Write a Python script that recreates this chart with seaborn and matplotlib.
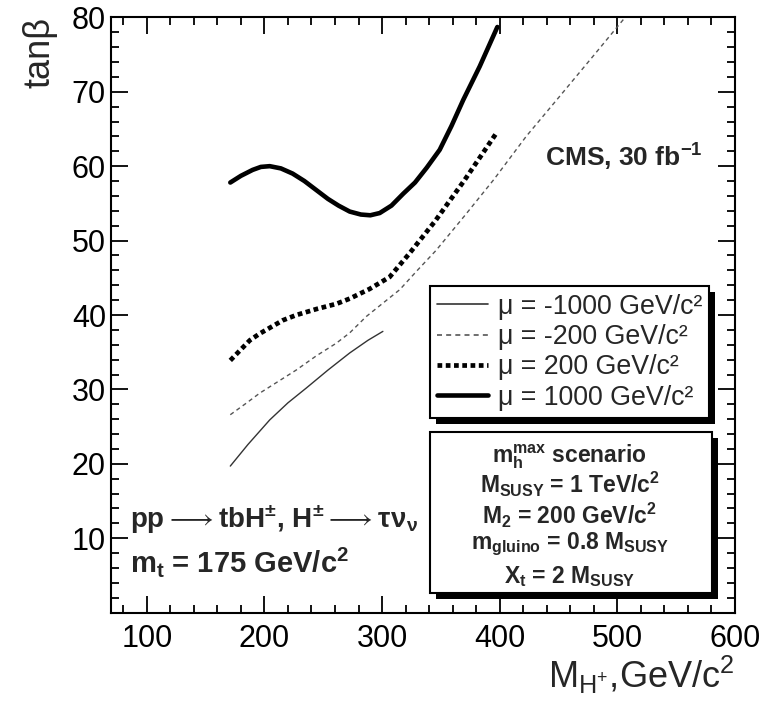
import numpy as np
import pandas as pd
import matplotlib
matplotlib.use("Agg")
import matplotlib.pyplot as plt
import matplotlib.patheffects as pe
from matplotlib.patches import Rectangle
from matplotlib.lines import Line2D
from matplotlib.ticker import MultipleLocator
import seaborn as sns

# ---- data ----
x_m1000 = [171, 186, 204.5, 220, 235.7, 254, 272.5, 288, 300.7]
y_m1000 = [19.7, 22.6, 25.9, 28.2, 30.2, 32.6, 34.9, 36.6, 37.8]

x_m200 = [171, 185, 196, 212, 227, 244, 261, 272.5, 286.6, 300, 315, 330, 346, 370, 395, 422.5, 450, 480, 505.6]
y_m200 = [26.6, 28.2, 29.5, 31.1, 32.6, 34.5, 36.2, 37.6, 39.8, 41.5, 43.4, 46.0, 48.7, 53.3, 58.2, 64.0, 69.2, 74.9, 79.8]

x_p200 = [171, 187.6, 196, 215.8, 227.2, 244.2, 261.2, 272.5, 289.4, 306.4, 323.4, 345, 370, 397]
y_p200 = [33.9, 36.6, 37.5, 39.3, 40.0, 40.8, 41.5, 42.2, 43.5, 45.1, 48.3, 52.6, 58.1, 64.4]

x_p1000 = [171, 180, 190, 197, 204.5, 214, 224, 234, 244, 254, 263, 272.5, 282, 290, 298, 308, 318, 328, 338, 349, 359, 369, 383, 398]
y_p1000 = [57.8, 58.7, 59.5, 59.9, 60.0, 59.7, 59.0, 58.0, 56.8, 55.6, 54.7, 53.9, 53.5, 53.4, 53.7, 54.7, 56.3, 57.8, 59.8, 62.2, 65.4, 68.9, 73.4, 78.7]

labels = ["μ = -1000 GeV/c²", "μ = -200 GeV/c²", "μ = 200 GeV/c²", "μ = 1000 GeV/c²"]
x_ticks = [100, 200, 300, 400, 500, 600]
y_ticks = [10, 20, 30, 40, 50, 60, 70, 80]

box_lines = ["m$_{h}^{max}$ scenario", "M$_{SUSY}$ = 1 TeV/c$^{2}$", "M$_{2}$ = 200 GeV/c$^{2}$",
             "m$_{gluino}$ = 0.8 M$_{SUSY}$", "X$_{t}$ = 2 M$_{SUSY}$"]
proc_lines = [r"pp$\longrightarrow$tbH$^{±}$, H$^{±}$$\longrightarrow$τν$_{ν}$", "m$_{t}$ = 175 GeV/c$^{2}$"]
cms_text = "CMS, 30 fb$^{-1}$"

# ---- style ----
sns.set_style("ticks")
plt.rcParams['font.family'] = ['Liberation Sans', 'DejaVu Sans']
plt.rcParams['mathtext.default'] = 'regular'
plt.rcParams['axes.linewidth'] = 1.5

fig = plt.figure(figsize=(7.63, 7.07), dpi=100)
ax = fig.add_axes([0.1461, 0.1334, 0.8172, 0.8421])

series = [
    (x_m1000, y_m1000, dict(color='#333333', lw=1.0, ls='-')),
    (x_m200, y_m200, dict(color='#555555', lw=1.0, ls=(0, (3, 2.5)))),
    (x_p200, y_p200, dict(color='black', lw=3.4, ls=(0, (1, 0.75)), solid_capstyle='butt', dash_capstyle='butt')),
    (x_p1000, y_p1000, dict(color='black', lw=3.3, ls='-')),
]
handles = []
for (xs, ys, st), lab in zip(series, labels):
    df = pd.DataFrame({"x": xs, "y": ys})
    sns.lineplot(data=df, x="x", y="y", ax=ax, sort=False, estimator=None,
                 color=st['color'], linewidth=st['lw'], linestyle=st['ls'],
                 **{k: v for k, v in st.items() if k.endswith('capstyle')})
    handles.append(Line2D([], [], color=st['color'], lw=st['lw'] * (1.2 if st['lw'] < 2 else 1.0), ls=st['ls']))

ax.set_xlim(70, 600)
ax.set_ylim(0, 80)
ax.set_xticks(x_ticks)
ax.set_yticks(y_ticks)
ax.xaxis.set_minor_locator(MultipleLocator(20))
ax.yaxis.set_minor_locator(MultipleLocator(2))
ax.tick_params(which='both', direction='in', top=True, right=True, width=1.3, colors='black')
ax.tick_params(which='major', length=12)
ax.tick_params(which='minor', length=6)
ax.tick_params(axis='x', which='major', labelsize=22, pad=8)
ax.tick_params(axis='y', which='major', labelsize=22, pad=4)
for s in ax.spines.values():
    s.set_color('black')

ax.set_ylabel("tanβ", fontsize=26, loc='top', labelpad=10)
ax.set_xlabel("M$_{H^{+}}$,GeV/c$^{2}$", fontsize=26, loc='right', labelpad=0)

leg = ax.legend(handles, labels, loc='upper left', bbox_to_anchor=(0.511, 0.548),
                fontsize=19.3, frameon=True, fancybox=False, framealpha=1,
                handlelength=1.9, handletextpad=0.35, labelspacing=0.16,
                borderpad=0.27, borderaxespad=0)
fr = leg.get_frame()
fr.set_edgecolor('black')
fr.set_linewidth(1.5)
fr.set_path_effects([pe.SimplePatchShadow(offset=(4.3, -4.3), shadow_rgbFace='black', alpha=1.0), pe.Normal()])

rect = Rectangle((0.511, 0.033), 0.452, 0.270, transform=ax.transAxes, facecolor='white',
                 edgecolor='black', lw=1.5, zorder=5)
rect.set_path_effects([pe.SimplePatchShadow(offset=(4.3, -4.3), shadow_rgbFace='black', alpha=1.0), pe.Normal()])
ax.add_patch(rect)
for yy, t in zip([0.262, 0.215, 0.163, 0.115, 0.060], box_lines):
    ax.text(0.735, yy, t, transform=ax.transAxes, ha='center', va='center', fontsize=16.5,
            fontweight='bold', zorder=6)

ax.text(0.03, 0.156, proc_lines[0], transform=ax.transAxes, ha='left', va='center',
        fontsize=20, fontweight='bold', zorder=6)
ax.text(0.03, 0.085, proc_lines[1], transform=ax.transAxes, ha='left', va='center',
        fontsize=21, fontweight='bold', zorder=6)
ax.text(0.948, 0.765, cms_text, transform=ax.transAxes, ha='right', va='center',
        fontsize=19, fontweight='bold', zorder=6)

fig.savefig("out.png", dpi=100)
